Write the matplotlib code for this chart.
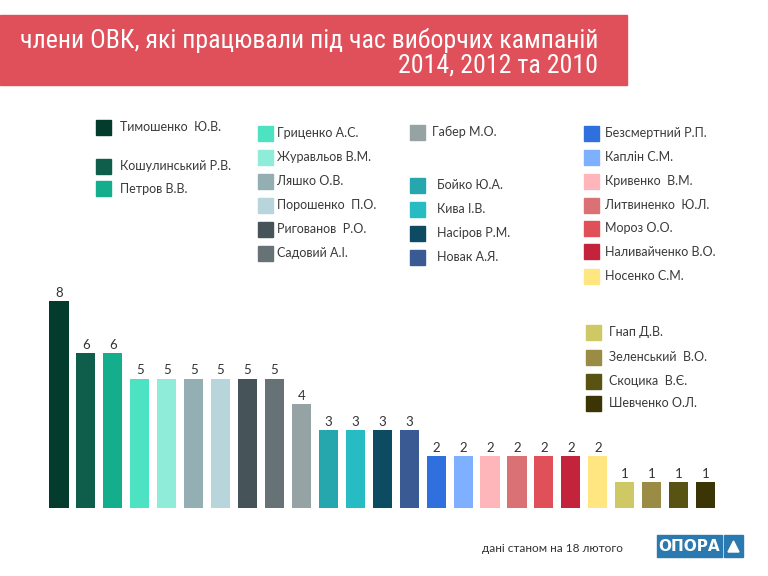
import matplotlib.pyplot as plt
from matplotlib.patches import Rectangle, Polygon
from matplotlib import font_manager

# дані
names = ["Тимошенко  Ю.В.", "Кошулинський Р.В.", "Петров В.В.", "Гриценко А.С.", "Журавльов В.М.",
         "Ляшко О.В.", "Порошенко  П.О.", "Ригованов  Р.О.", "Садовий А.І.", "Габер М.О.",
         "Бойко Ю.А.", "Кива І.В.", "Насіров Р.М.", "Новак А.Я.", "Безсмертний Р.П.",
         "Каплін С.М.", "Кривенко  В.М.", "Литвиненко  Ю.Л.", "Мороз О.О.", "Наливайченко В.О.",
         "Носенко С.М.", "Гнап Д.В.", "Зеленський  В.О.", "Скоцика  В.Є.", "Шевченко О.Л."]
values = [8, 6, 6, 5, 5, 5, 5, 5, 5, 4, 3, 3, 3, 3, 2, 2, 2, 2, 2, 2, 2, 1, 1, 1, 1]
colors = ["#033B2C", "#0E5E4B", "#14AE8C", "#4DE2C2", "#8FECD8",
          "#94AFB4", "#B7D5DB", "#465358", "#667276", "#96A3A5",
          "#26A6AD", "#27BCC3", "#0D4B63", "#3A5A93", "#2F6FDE",
          "#7FAFFF", "#FFB6BA", "#DA7275", "#E05058", "#C3243C",
          "#FFE680", "#CEC865", "#9A8C45", "#585213", "#3B3505"]

title1 = "члени ОВК, які працювали під час виборчих кампаній"
title2 = "2014, 2012 та 2010"
note = "дані станом на 18 лютого"

W, H = 768, 576
fig = plt.figure(figsize=(W / 100, H / 100), dpi=100)
fig.patch.set_facecolor("white")

def fx(px):
    return px / W

def fy(py):
    return 1 - py / H

# вузький шрифт для заголовка, якщо є
ff = {(f.name, f.stretch) for f in font_manager.fontManager.ttflist}
fam_names = {f.name for f in font_manager.fontManager.ttflist}
title_kw = dict(family=["Roboto", "DejaVu Sans"])
for cand in ["Roboto Condensed", "Liberation Sans Narrow", "Open Sans Condensed", "DejaVu Sans Condensed"]:
    if cand in fam_names:
        title_kw = dict(family=[cand, "DejaVu Sans"])
        break
else:
    if any(n == "DejaVu Sans" and s in ("condensed", "semi-condensed") for n, s in ff):
        title_kw = dict(family=["DejaVu Sans"], fontstretch="condensed")
text_font = ["Lato", "DejaVu Sans"]

# заголовок
fig.patches.append(Rectangle((0, fy(85)), fx(627), 70 / H, transform=fig.transFigure,
                             color="#E0505A", zorder=0))
t1 = fig.text(fx(598), fy(48), title1, ha="right", va="baseline", color="white",
              fontsize=16, **title_kw)
t2 = fig.text(fx(598), fy(73), title2, ha="right", va="baseline", color="white",
              fontsize=16, **title_kw)
r = fig.canvas.get_renderer()
w = t1.get_window_extent(r).width
size = min(20, 16 * 578 / w)
t1.set_fontsize(size)
t2.set_fontsize(size)

# графік
ax = fig.add_axes([fx(45.5), 68 / H, 673.5 / W, 259 / H])
x = range(len(values))
bars = ax.bar(x, values, width=0.71, color=colors)
for xi, v in zip(x, values):
    ax.text(xi, v + 0.08, str(v), ha="center", va="bottom", fontsize=9.5,
            color="#333333", family=text_font)
ax.set_xlim(-0.5, len(values) - 0.5)
ax.set_ylim(0, 10)
ax.axis("off")

# легенда (колонки)
groups = [(0, 3), (3, 9), (9, 14), (14, 21), (21, 25)]
sq_x = [96, 258, 410, 584, 586]
txt_x = [120, 277, 437, 605, 609]
rows_y = [[127, 166, 189],
          [133, 157, 181, 205, 229, 253],
          [132, 185, 209, 233, 257],
          [133, 157, 181, 205, 228, 252, 276],
          [332, 357, 381, 403]]
for g, (a, b) in enumerate(groups):
    for k, i in enumerate(range(a, b)):
        yc = rows_y[g][k]
        fig.patches.append(Rectangle((fx(sq_x[g]), fy(yc + 7.5)), 15 / W, 15 / H,
                                     transform=fig.transFigure, color=colors[i]))
        tx = txt_x[g] - 5 if i == 9 else txt_x[g]
        fig.text(fx(tx), fy(yc), names[i], ha="left", va="center", fontsize=9,
                 color="#3a3a3a", family=text_font)

# підпис і логотип
fig.text(fx(482), fy(548), note, ha="left", va="center", fontsize=8.5,
         color="#333333", family=text_font)
fig.patches.append(Rectangle((fx(657), fy(557)), 65 / W, 22 / H, transform=fig.transFigure,
                             color="#2A7AB0"))
fig.patches.append(Rectangle((fx(724), fy(557)), 19 / W, 22 / H, transform=fig.transFigure,
                             color="#2A7AB0"))
fig.patches.append(Polygon([(fx(728), fy(552)), (fx(739), fy(552)), (fx(733.5), fy(541))],
                           closed=True, transform=fig.transFigure, color="white"))
fig.text(fx(689.5), fy(546.5), "ОПОРА", ha="center", va="center", fontsize=11,
         color="white", fontweight="bold", family=["DejaVu Sans"])

fig.savefig("out.png", dpi=100)
